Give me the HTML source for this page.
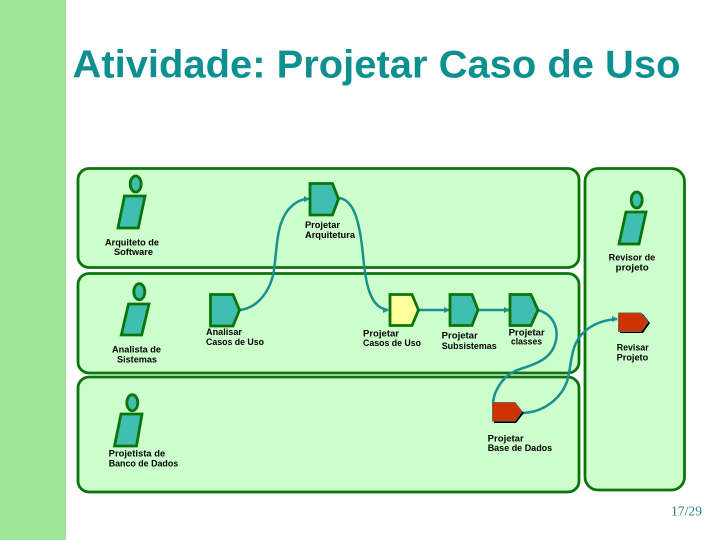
<!DOCTYPE html>
<html><head><meta charset="utf-8"><style>
html,body{margin:0;padding:0;background:#fff}
svg{display:block}
.l{font-family:"Liberation Sans",sans-serif;font-size:9px;font-weight:bold;fill:#000}
.lane{fill:#ccffcc;stroke:#0b750b;stroke-width:2.8}
.a{fill:#40bfb0;stroke:#0b750b;stroke-width:2.8}
.c{fill:none;stroke:#1a9090;stroke-width:2.5}
</style></head><body>
<svg width="720" height="540" viewBox="0 0 720 540" xmlns="http://www.w3.org/2000/svg">
<rect x="0" y="0" width="66" height="540" fill="#9fe69a"/>
<text x="72.5" y="77.5" font-family="'Liberation Sans',sans-serif" font-size="39" font-weight="bold" fill="#0e9090" textLength="608" lengthAdjust="spacingAndGlyphs">Atividade: Projetar Caso de Uso</text>

<rect class="lane" x="78" y="168.5" width="501" height="99" rx="11"/>
<rect class="lane" x="78" y="273.5" width="501" height="99.5" rx="11"/>
<rect class="lane" x="78" y="377" width="501" height="115" rx="11"/>
<rect class="lane" x="585" y="168.5" width="99.5" height="321.5" rx="13"/>

<!-- actors -->
<ellipse class="a" cx="135.7" cy="184" rx="5.5" ry="8"/>
<polygon class="a" points="124.5,196 145,196 138.3,228 118,228"/>
<ellipse class="a" cx="139.3" cy="291.7" rx="5.5" ry="8"/>
<polygon class="a" points="128.5,304 149,304 141.7,335 121.3,335"/>
<ellipse class="a" cx="132.3" cy="402.7" rx="5.5" ry="8"/>
<polygon class="a" points="121,414 142,414 136.5,446 114.5,446"/>
<ellipse class="a" cx="636.7" cy="200" rx="5.5" ry="8"/>
<polygon class="a" points="626,212 646,212 639,244 619,244"/>

<!-- connectors -->
<path class="c" d="M240,310 C258,308 271,290 274,270 C277,250 276,225 288,210 C294,203 300,199 308,199"/>
<path class="c" d="M339,198 C355,200 360,225 363,255 C366,290 372,308 388,310"/>
<path class="c" d="M419,310 L449,310"/>
<path class="c" d="M478,310 L509,310"/>
<path class="c" d="M538,310 C555,315 558,330 556,340 C552,362 530,365 515,371 C503,377 494,390 493,403"/>
<path class="c" d="M523,413 C545,412 563,397 568,378 C572,360 571,345 583,333 C592,324 603,320 617,319"/>
<polygon points="310,199 304,196 304,202" fill="#1a9090"/>
<polygon points="389,310 383,307 383,313" fill="#1a9090"/>
<polygon points="450,310 444,307 444,313" fill="#1a9090"/>
<polygon points="510,310 504,307 504,313" fill="#1a9090"/>
<polygon points="618,319 612,316 612,322" fill="#1a9090"/>

<!-- activities -->
<polygon class="a" points="310,183.5 332.5,183.5 338.5,199 332.5,215 310,215"/>
<polygon class="a" points="210.5,294.5 233,294.5 239.5,310 233,326 210.5,326"/>
<polygon class="a" style="fill:#ffff99" points="390,294.5 412,294.5 418.5,310 412,325.5 390,325.5"/>
<polygon class="a" points="450,294.5 472,294.5 478,310 472,325.5 450,325.5"/>
<polygon class="a" points="510,294.5 531,294.5 538,310 531,325.5 510,325.5"/>

<polygon points="620,314 643,314 650,323 643,333 620,333" fill="#000"/>
<polygon points="618.5,313 641,313 648,322 641,331.5 618.5,331.5" fill="#cc3300" stroke="#76604f" stroke-width="1"/>
<polygon points="494,404 516,404 524,413 516,423 494,423" fill="#000"/>
<polygon points="492.5,402.5 515,402.5 522,411.5 515,421 492.5,421" fill="#cc3300" stroke="#76604f" stroke-width="1"/>

<!-- labels -->
<text class="l" x="105" y="245.5" textLength="54" lengthAdjust="spacingAndGlyphs">Arquiteto de</text>
<text class="l" x="114" y="255" textLength="39" lengthAdjust="spacingAndGlyphs">Software</text>
<text class="l" x="112" y="352.7" textLength="49" lengthAdjust="spacingAndGlyphs">Analista de</text>
<text class="l" x="117" y="362.7" textLength="40" lengthAdjust="spacingAndGlyphs">Sistemas</text>
<text class="l" x="305" y="228" textLength="35" lengthAdjust="spacingAndGlyphs">Projetar</text>
<text class="l" x="305" y="238" textLength="50" lengthAdjust="spacingAndGlyphs">Arquitetura</text>
<text class="l" x="206" y="335" textLength="36" lengthAdjust="spacingAndGlyphs">Analisar</text>
<text class="l" x="206" y="345" textLength="58" lengthAdjust="spacingAndGlyphs">Casos de Uso</text>
<text class="l" x="363" y="336.7" textLength="36" lengthAdjust="spacingAndGlyphs">Projetar</text>
<text class="l" x="363" y="346" textLength="58" lengthAdjust="spacingAndGlyphs">Casos de Uso</text>
<text class="l" x="441.7" y="338.7" textLength="36" lengthAdjust="spacingAndGlyphs">Projetar</text>
<text class="l" x="441.7" y="349" textLength="55" lengthAdjust="spacingAndGlyphs">Subsistemas</text>
<text class="l" x="508.7" y="335.3" textLength="36" lengthAdjust="spacingAndGlyphs">Projetar</text>
<text class="l" x="511" y="344.7" textLength="31" lengthAdjust="spacingAndGlyphs">classes</text>
<text class="l" x="608.7" y="260.7" textLength="46.5" lengthAdjust="spacingAndGlyphs">Revisor de</text>
<text class="l" x="615.7" y="270.7" textLength="33" lengthAdjust="spacingAndGlyphs">projeto</text>
<text class="l" x="616.7" y="350.3" textLength="32" lengthAdjust="spacingAndGlyphs">Revisar</text>
<text class="l" x="616.7" y="360.3" textLength="31.5" lengthAdjust="spacingAndGlyphs">Projeto</text>
<text class="l" x="108.7" y="456.7" textLength="56.5" lengthAdjust="spacingAndGlyphs">Projetista de</text>
<text class="l" x="108.7" y="466.7" textLength="69.5" lengthAdjust="spacingAndGlyphs">Banco de Dados</text>
<text class="l" x="487.7" y="441.7" textLength="36" lengthAdjust="spacingAndGlyphs">Projetar</text>
<text class="l" x="487.7" y="451" textLength="64.5" lengthAdjust="spacingAndGlyphs">Base de Dados</text>

<text x="671" y="515.7" font-family="'Liberation Serif',serif" font-size="14" fill="#2f8080" textLength="31" lengthAdjust="spacingAndGlyphs">17/29</text>
</svg>
</body></html>
